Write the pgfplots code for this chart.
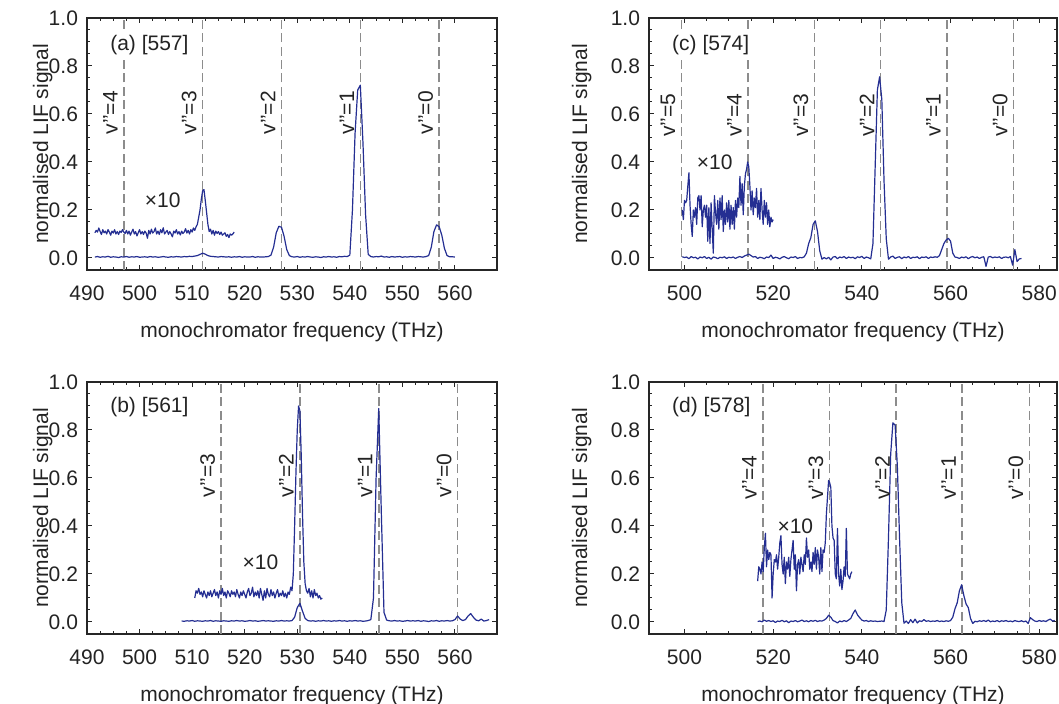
\documentclass[border=0pt]{standalone}
\usepackage{pgfplots}
\pgfplotsset{compat=1.18}
\usepackage{fontspec}
\setmainfont{Liberation Sans}
\definecolor{trace}{RGB}{36,46,146}
\definecolor{vgray}{RGB}{140,140,140}
\definecolor{txt}{RGB}{35,35,35}
\newcommand{\fs}{\fontsize{10.5}{12}\selectfont}
\tikzset{
  vlab/.style={rotate=90, font=\fs, text=txt},
  plab/.style={fill=white, inner sep=1pt, anchor=west, font=\fs, text=txt},
}
\pgfplotsset{
  panel/.style={
    scale only axis, height=126pt, ymin=-0.05, ymax=1,
    ytick={0,0.2,0.4,0.6,0.8,1}, minor y tick num=3, minor x tick num=3,
    tick align=inside, major tick length=2.5pt, minor tick length=1.5pt,
    axis line style={line width=0.6pt, black!85},
    every tick/.style={line width=0.5pt, black!85},
    /pgf/number format/assume math mode=true,
    yticklabel style={xshift=-1pt, /pgf/number format/.cd, fixed, fixed zerofill, precision=1},
    xticklabel style={yshift=-4.5pt, /pgf/number format/.cd, fixed, precision=0},
    every tick label/.append style={font=\fs, text=txt},
    ylabel={normalised LIF signal}, xlabel={monochromator frequency (THz)},
    every axis label/.append style={font=\fs, text=txt},
    xlabel style={at={(axis description cs:0.5,0)}, anchor=center, yshift=-31pt},
    clip=false,
  },
  tr/.style={trace, line width=0.6pt, line join=round},
  vl/.style={vgray, line width=0.8pt, dash pattern=on 4.5pt off 2.2pt, forget plot},
}
\begin{document}
\begin{tikzpicture}
\useasboundingbox (0,0) rectangle (529.5pt,352pt);

% (a)
\begin{axis}[panel, at={(43.5pt,217pt)}, anchor=south west, width=205pt,
  xmin=490, xmax=568, xtick={490,500,...,560},
  ylabel style={at={(axis description cs:-0.108,0.5)}, anchor=center}]
\addplot[vl] coordinates {(497,-0.05)(497,1)};
\addplot[vl] coordinates {(512,-0.05)(512,1)};
\addplot[vl] coordinates {(527,-0.05)(527,1)};
\addplot[vl] coordinates {(542,-0.05)(542,1)};
\addplot[vl] coordinates {(557,-0.05)(557,1)};
\addplot[tr] coordinates {
(491.5,.004)(492,.006)(492.5,.003)(493,.005)(493.5,.004)(494,.007)(494.5,.003)(495,.005)(495.5,.004)(496,.002)
(496.5,.005)(497,.004)(497.5,.006)(498,.003)(498.5,.005)(499,.004)(499.5,.006)(500,.003)(500.5,.004)(501,.005)
(501.5,.003)(502,.006)(502.5,.004)(503,.005)(503.5,.003)(504,.004)(504.5,.006)(505,.004)(505.5,.003)(506,.005)
(506.5,.004)(507,.006)(507.5,.005)(508,.004)(508.5,.006)(509,.005)(509.5,.007)(510,.006)(510.5,.008)(511,.01)
(511.5,.015)(512,.02)(512.5,.016)(513,.01)(513.5,.007)(514,.006)(514.5,.005)(515,.004)(515.5,.006)(516,.005)
(516.5,.004)(517,.005)(517.5,.003)(518,.005)(518.5,.004)(519,.006)(519.5,.003)(520,.005)(520.5,.004)(521,.004)
(521.5,.006)(522,.003)(522.5,.005)(523,.004)(523.5,.004)(524,.005)(524.5,.006)(525,.012)(525.5,.045)(526,.105)
(526.5,.132)(527,.128)(527.5,.09)(528,.035)(528.5,.01)(529,.005)(529.5,.004)(530,.006)(530.5,.003)(531,.005)
(531.5,.004)(532,.006)(532.5,.004)(533,.003)(533.5,.005)(534,.004)(534.5,.002)(535,.005)(535.5,.004)(536,.006)
(536.5,.004)(537,.005)(537.5,.003)(538,.006)(538.5,.005)(539,.007)(539.5,.006)(540,.012)(540.5,.2)(541,.52)
(541.5,.7)(542,.72)(542.5,.48)(543,.18)(543.5,.015)(544,.006)(544.5,.004)(545,.006)(545.5,.005)(546,.008)
(546.5,.004)(547,.005)(547.5,.003)(548,.006)(548.5,.004)(549,.005)(549.5,.006)(550,.003)(550.5,.005)(551,.004)
(551.5,.006)(552,.005)(552.5,.004)(553,.006)(553.5,.005)(554,.004)(554.5,.006)(555,.01)(555.5,.045)(556,.11)
(556.5,.138)(557,.13)(557.5,.095)(558,.04)(558.5,.01)(559,.005)(559.5,.005)(560,.004)};
\addplot[tr] coordinates {
(491.5,.105)(491.75,.115)(492,.108)(492.25,.125)(492.5,.11)(492.75,.098)(493,.118)(493.25,.105)(493.5,.112)(493.75,.1)
(494,.118)(494.25,.108)(494.5,.095)(494.75,.112)(495,.104)(495.25,.118)(495.5,.1)(495.75,.11)(496,.098)(496.25,.112)
(496.5,.106)(496.75,.118)(497,.108)(497.25,.102)(497.5,.115)(497.75,.1)(498,.112)(498.25,.095)(498.5,.108)(498.75,.12)
(499,.1)(499.25,.11)(499.5,.092)(499.75,.105)(500,.118)(500.25,.1)(500.5,.11)(500.75,.098)(501,.112)(501.25,.104)
(501.5,.082)(501.75,.115)(502,.1)(502.25,.12)(502.5,.104)(502.75,.11)(503,.125)(503.25,.1)(503.5,.112)(503.75,.098)
(504,.118)(504.25,.105)(504.5,.126)(504.75,.1)(505,.108)(505.25,.115)(505.5,.098)(505.75,.11)(506,.1)(506.25,.088)
(506.5,.112)(506.75,.104)(507,.118)(507.25,.1)(507.5,.11)(507.75,.096)(508,.112)(508.25,.102)(508.5,.108)(508.75,.122)
(509,.104)(509.25,.115)(509.5,.1)(509.75,.118)(510,.108)(510.25,.125)(510.5,.115)(510.75,.13)(511,.14)(511.25,.17)
(511.5,.2)(511.75,.245)(512,.28)(512.25,.285)(512.5,.24)(512.75,.19)(513,.14)(513.25,.11)(513.5,.12)(513.75,.1)
(514,.115)(514.25,.095)(514.5,.112)(514.75,.102)(515,.11)(515.25,.098)(515.5,.108)(515.75,.095)(516,.1)(516.25,.105)
(516.5,.09)(516.75,.098)(517,.085)(517.25,.1)(517.5,.095)(517.75,.1)(518,.108)};
\node[plab] at (rel axis cs:0.051,0.893) {(a) [557]};
\node[font=\fs, text=txt] at (axis cs:504.4,0.24) {×10};
\node[vlab] at ([xshift=-6.75pt]axis cs:497,0.605) {v’’=4};
\node[vlab] at ([xshift=-6.75pt]axis cs:512,0.605) {v’’=3};
\node[vlab] at ([xshift=-6.75pt]axis cs:527,0.605) {v’’=2};
\node[vlab] at ([xshift=-6.75pt]axis cs:542,0.605) {v’’=1};
\node[vlab] at ([xshift=-6.75pt]axis cs:557,0.605) {v’’=0};
\end{axis}

% (b)
\begin{axis}[panel, at={(43.5pt,35pt)}, anchor=south west, width=205pt,
  xmin=490, xmax=568, xtick={490,500,...,560},
  ylabel style={at={(axis description cs:-0.108,0.5)}, anchor=center}]
\addplot[vl] coordinates {(515.5,-0.05)(515.5,1)};
\addplot[vl] coordinates {(530.5,-0.05)(530.5,1)};
\addplot[vl] coordinates {(545.5,-0.05)(545.5,1)};
\addplot[vl] coordinates {(560.5,-0.05)(560.5,1)};
\addplot[tr] coordinates {
(508,.004)(508.5,.003)(509,.005)(509.5,.004)(510,.006)(510.5,.003)(511,.005)(511.5,.004)(512,.003)(512.5,.005)
(513,.004)(513.5,.006)(514,.003)(514.5,.005)(515,.004)(515.5,.003)(516,.005)(516.5,.004)(517,.003)(517.5,.005)
(518,.004)(518.5,.006)(519,.004)(519.5,.005)(520,.003)(520.5,.004)(521,.006)(521.5,.004)(522,.005)(522.5,.003)
(523,.004)(523.5,.006)(524,.004)(524.5,.005)(525,.004)(525.5,.003)(526,.005)(526.5,.004)(527,.006)(527.5,.004)
(528,.005)(528.5,.004)(529,.006)(529.5,.02)(530,.06)(530.5,.078)(531,.045)(531.5,.015)(532,.006)(532.5,.004)
(533,.005)(533.5,.003)(534,.005)(534.5,.004)(535,.006)(535.5,.004)(536,.005)(536.5,.003)(537,.005)(537.5,.004)
(538,.006)(538.5,.004)(539,.005)(539.5,.003)(540,.005)(540.5,.004)(541,.006)(541.5,.004)(542,.005)(542.5,.003)
(543,.004)(543.5,.006)(544,.01)(544.5,.1)(545,.6)(545.5,.89)(546,.45)(546.5,.04)(547,.008)(547.5,.005)
(548,.004)(548.5,.006)(549,.004)(549.5,.005)(550,.003)(550.5,.004)(551,.006)(551.5,.004)(552,.005)(552.5,.004)
(553,.006)(553.5,.003)(554,.005)(554.5,.004)(555,.002)(555.5,.005)(556,.004)(556.5,.006)(557,.003)(557.5,.005)
(558,.004)(558.5,.006)(559,.004)(559.5,.005)(560,.01)(560.5,.025)(561,.012)(561.5,.006)(562,.01)(562.5,.025)
(563,.035)(563.5,.02)(564,.008)(564.5,.005)(565,.012)(565.5,.004)(566,.006)(566.5,.01)};
\addplot[tr] coordinates {
(510.5,.1)(510.75,.13)(511,.12)(511.25,.14)(511.5,.115)(511.75,.125)(512,.105)(512.25,.13)(512.5,.115)(512.75,.1)
(513,.125)(513.25,.11)(513.5,.13)(513.75,.105)(514,.12)(514.25,.135)(514.5,.11)(514.75,.125)(515,.1)(515.25,.13)
(515.5,.115)(515.75,.14)(516,.11)(516.25,.125)(516.5,.1)(516.75,.13)(517,.12)(517.25,.105)(517.5,.13)(517.75,.115)
(518,.125)(518.25,.105)(518.5,.135)(518.75,.115)(519,.1)(519.25,.125)(519.5,.11)(519.75,.13)(520,.115)(520.25,.1)
(520.5,.125)(520.75,.14)(521,.11)(521.25,.12)(521.5,.145)(521.75,.105)(522,.125)(522.25,.11)(522.5,.13)(522.75,.1)
(523,.14)(523.25,.115)(523.5,.09)(523.75,.13)(524,.1)(524.25,.14)(524.5,.115)(524.75,.105)(525,.135)(525.25,.11)
(525.5,.125)(525.75,.1)(526,.12)(526.25,.135)(526.5,.105)(526.75,.12)(527,.11)(527.25,.13)(527.5,.105)(527.75,.12)
(528,.1)(528.25,.125)(528.5,.115)(528.75,.145)(529,.13)(529.25,.2)(529.5,.4)(529.75,.62)(530,.8)(530.25,.9)
(530.5,.88)(530.75,.7)(531,.45)(531.25,.25)(531.5,.16)(531.75,.13)(532,.12)(532.25,.14)(532.5,.105)(532.75,.13)
(533,.1)(533.25,.135)(533.5,.11)(533.75,.12)(534,.1)(534.25,.11)(534.5,.095)(534.75,.1)};
\node[plab] at (rel axis cs:0.051,0.9) {(b) [561]};
\node[font=\fs, text=txt] at (axis cs:523,0.25) {×10};
\node[vlab] at ([xshift=-6.75pt]axis cs:515.5,0.61) {v’’=3};
\node[vlab] at ([xshift=-6.75pt]axis cs:530.5,0.61) {v’’=2};
\node[vlab] at ([xshift=-6.75pt]axis cs:545.5,0.61) {v’’=1};
\node[vlab] at ([xshift=-6.75pt]axis cs:560.5,0.61) {v’’=0};
\end{axis}

% (c)
\begin{axis}[panel, at={(324.5pt,217pt)}, anchor=south west, width=204pt,
  xmin=492, xmax=584, xtick={500,520,...,580},
  ylabel style={at={(axis description cs:-0.165,0.5)}, anchor=center}]
\addplot[vl] coordinates {(499.3,-0.05)(499.3,1)};
\addplot[vl] coordinates {(514.3,-0.05)(514.3,1)};
\addplot[vl] coordinates {(529.3,-0.05)(529.3,1)};
\addplot[vl] coordinates {(544.2,-0.05)(544.2,1)};
\addplot[vl] coordinates {(559.2,-0.05)(559.2,1)};
\addplot[vl] coordinates {(574.2,-0.05)(574.2,1)};
\addplot[tr] coordinates {
(499.5,.005)(500,.002)(500.5,.004)(501,-.003)(501.5,.006)(502,.001)(502.5,.003)(503,-.004)(503.5,.004)(504,.001)
(504.5,.006)(505,-.002)(505.5,.003)(506,-.005)(506.5,.004)(507,.002)(507.5,-.003)(508,.003)(508.5,.001)(509,.005)
(509.5,-.002)(510,.003)(510.5,.001)(511,.004)(511.5,-.002)(512,.003)(512.5,.006)(513,.002)(513.5,.008)(514,.012)
(514.5,.016)(515,.01)(515.5,.004)(516,.006)(516.5,-.002)(517,.003)(517.5,.001)(518,-.003)(518.5,.004)(519,.002)
(519.5,.012)(520,-.002)(520.5,.003)(521,.001)(521.5,-.004)(522,.003)(522.5,.006)(523,.001)(523.5,-.003)(524,.004)
(524.5,.002)(525,.006)(525.5,-.002)(526,.002)(526.5,.001)(527,.005)(527.5,.02)(528,.06)(528.5,.085)(529,.14)
(529.5,.155)(530,.11)(530.5,.03)(531,-.005)(531.5,.002)(532,-.004)(532.5,.003)(533,-.008)(533.5,.004)(534,.006)
(534.5,-.003)(535,.004)(535.5,.001)(536,.006)(536.5,-.002)(537,.004)(537.5,.001)(538,.003)(538.5,-.003)(539,.005)
(539.5,.002)(540,.007)(540.5,-.002)(541,.004)(541.5,.001)(542,-.004)(542.5,.06)(543,.38)(543.5,.7)(544,.755)
(544.5,.66)(545,.32)(545.5,.08)(546,-.005)(546.5,.004)(547,.008)(547.5,-.002)(548,.003)(548.5,.005)(549,-.003)
(549.5,.004)(550,.001)(550.5,.006)(551,-.002)(551.5,.003)(552,.002)(552.5,.005)(553,-.003)(553.5,.004)(554,.002)
(554.5,.005)(555,-.002)(555.5,.004)(556,.002)(556.5,.005)(557,.003)(557.5,.01)(558,.035)(558.5,.06)(559,.075)
(559.5,.082)(560,.07)(560.5,.02)(561,.004)(561.5,.002)(562,-.002)(562.5,.004)(563,.001)(563.5,.005)(564,-.003)
(564.5,.003)(565,.006)(565.5,.001)(566,.004)(566.5,-.002)(567,.003)(567.5,.005)(568,-.035)(568.5,.004)(569,.006)
(569.5,.001)(570,.004)(570.5,.002)(571,.005)(571.5,-.002)(572,.003)(572.5,.004)(573,.001)(573.5,.006)(574,-.03)
(574.5,.035)(575,-.015)(575.5,-.004)(576,-.002)};
\addplot[tr] coordinates {
(499.5,.2)(499.75,.16)(500,.24)(500.25,.23)(500.5,.24)(500.75,.3)(501,.355)(501.25,.22)(501.5,.14)(501.75,.09)
(502,.2)(502.25,.17)(502.5,.21)(502.75,.14)(503,.25)(503.25,.26)(503.5,.2)(503.75,.26)(504,.13)(504.25,.2)
(504.5,.22)(504.75,.17)(505,.22)(505.25,.07)(505.5,.21)(505.75,.06)(506,.23)(506.25,.12)(506.5,.02)(506.75,.26)
(507,.19)(507.25,.14)(507.5,.24)(507.75,.12)(508,.25)(508.25,.16)(508.5,.26)(508.75,.11)(509,.2)(509.25,.14)
(509.5,.23)(509.75,.15)(510,.24)(510.25,.12)(510.5,.22)(510.75,.14)(511,.21)(511.25,.12)(511.5,.24)(511.75,.17)
(512,.25)(512.25,.21)(512.5,.34)(512.75,.22)(513,.31)(513.25,.18)(513.5,.3)(513.75,.35)(514,.37)(514.25,.4)
(514.5,.38)(514.75,.3)(515,.2)(515.25,.28)(515.5,.18)(515.75,.25)(516,.21)(516.25,.29)(516.5,.17)(516.75,.24)
(517,.16)(517.25,.29)(517.5,.2)(517.75,.14)(518,.24)(518.25,.17)(518.5,.23)(518.75,.14)(519,.2)(519.25,.13)
(519.5,.17)(519.75,.15)(520,.16)};
\node[plab] at (rel axis cs:0.051,0.893) {(c) [574]};
\node[font=\fs, text=txt] at (axis cs:506.8,0.40) {×10};
\node[vlab] at ([xshift=-6.75pt]axis cs:499.3,0.595) {v’’=5};
\node[vlab] at ([xshift=-6.75pt]axis cs:514.3,0.595) {v’’=4};
\node[vlab] at ([xshift=-6.75pt]axis cs:529.3,0.595) {v’’=3};
\node[vlab] at ([xshift=-6.75pt]axis cs:544.2,0.595) {v’’=2};
\node[vlab] at ([xshift=-6.75pt]axis cs:559.2,0.595) {v’’=1};
\node[vlab] at ([xshift=-6.75pt]axis cs:574.2,0.595) {v’’=0};
\end{axis}

% (d)
\begin{axis}[panel, at={(324.5pt,35pt)}, anchor=south west, width=204pt,
  xmin=492, xmax=584, xtick={500,520,...,580},
  ylabel style={at={(axis description cs:-0.165,0.5)}, anchor=center}]
\addplot[vl] coordinates {(517.7,-0.05)(517.7,1)};
\addplot[vl] coordinates {(532.7,-0.05)(532.7,1)};
\addplot[vl] coordinates {(547.7,-0.05)(547.7,1)};
\addplot[vl] coordinates {(562.6,-0.05)(562.6,1)};
\addplot[vl] coordinates {(577.8,-0.05)(577.8,1)};
\addplot[tr] coordinates {
(516.5,.002)(517,.004)(517.5,.001)(518,.008)(518.5,.003)(519,.006)(519.5,.002)(520,.005)(520.5,-.002)(521,.004)
(521.5,.002)(522,.007)(522.5,.001)(523,.005)(523.5,-.003)(524,.004)(524.5,.002)(525,.006)(525.5,.001)(526,.004)
(526.5,.008)(527,.002)(527.5,.005)(528,.001)(528.5,.006)(529,.003)(529.5,.007)(530,.002)(530.5,.005)(531,.004)
(531.5,.008)(532,.015)(532.5,.028)(533,.02)(533.5,.006)(534,.002)(534.5,-.004)(535,.004)(535.5,.001)(536,.006)
(536.5,.002)(537,.008)(537.5,.015)(538,.035)(538.5,.05)(539,.03)(539.5,.018)(540,.008)(540.5,.004)(541,.006)
(541.5,.002)(542,.005)(542.5,.003)(543,.004)(543.5,.002)(544,.003)(544.5,.004)(545,.002)(545.5,.05)(546,.35)
(546.5,.7)(547,.83)(547.5,.82)(548,.65)(548.5,.35)(549,.08)(549.5,-.005)(550,.004)(550.5,-.006)(551,.01)
(551.5,-.003)(552,.012)(552.5,-.004)(553,.005)(553.5,.002)(554,.01)(554.5,.003)(555,.005)(555.5,.002)(556,.004)
(556.5,.003)(557,.006)(557.5,.002)(558,.004)(558.5,.002)(559,.005)(559.5,.003)(560,.006)(560.5,.02)(561,.055)
(561.5,.08)(562,.13)(562.5,.155)(563,.11)(563.5,.075)(564,.06)(564.5,.015)(565,-.006)(565.5,.003)(566,.001)
(566.5,.005)(567,.003)(567.5,.006)(568,.002)(568.5,.008)(569,.001)(569.5,.004)(570,.002)(570.5,.006)(571,.001)
(571.5,.005)(572,.003)(572.5,.006)(573,.002)(573.5,.004)(574,.001)(574.5,.006)(575,.003)(575.5,.002)(576,.005)
(576.5,.001)(577,.004)(577.5,-.006)(578,.018)(578.5,.01)(579,.004)(579.5,.002)(580,.006)(580.5,.003)(581,.005)
(581.5,.002)(582,.008)(582.5,.012)(583,.004)(583.5,.006)};
\addplot[tr] coordinates {
(516.5,.17)(516.75,.23)(517,.22)(517.25,.2)(517.5,.25)(517.75,.21)(518,.31)(518.25,.37)(518.5,.23)(518.75,.3)
(519,.26)(519.25,.29)(519.5,.28)(519.75,.1)(520,.2)(520.25,.26)(520.5,.25)(520.75,.28)(521,.22)(521.25,.27)
(521.5,.33)(521.75,.36)(522,.24)(522.25,.2)(522.5,.27)(522.75,.16)(523,.25)(523.25,.22)(523.5,.27)(523.75,.19)
(524,.26)(524.25,.3)(524.5,.34)(524.75,.22)(525,.28)(525.25,.13)(525.5,.24)(525.75,.26)(526,.2)(526.25,.27)
(526.5,.24)(526.75,.21)(527,.28)(527.25,.24)(527.5,.35)(527.75,.27)(528,.3)(528.25,.22)(528.5,.25)(528.75,.21)
(529,.29)(529.25,.24)(529.5,.31)(529.75,.22)(530,.3)(530.25,.27)(530.5,.2)(530.75,.31)(531,.21)(531.25,.3)
(531.5,.29)(531.75,.33)(532,.45)(532.25,.52)(532.5,.59)(532.75,.58)(533,.56)(533.25,.4)(533.5,.35)(533.75,.34)
(534,.2)(534.25,.18)(534.5,.39)(534.75,.2)(535,.15)(535.25,.22)(535.5,.135)(535.75,.17)(536,.23)(536.25,.19)
(536.5,.39)(536.75,.2)(537,.19)(537.25,.18)(537.5,.2)(537.75,.21)};
\node[plab] at (rel axis cs:0.051,0.9) {(d) [578]};
\node[font=\fs, text=txt] at (axis cs:525,0.40) {×10};
\node[vlab] at ([xshift=-6.75pt]axis cs:517.7,0.6) {v’’=4};
\node[vlab] at ([xshift=-6.75pt]axis cs:532.7,0.6) {v’’=3};
\node[vlab] at ([xshift=-6.75pt]axis cs:547.7,0.6) {v’’=2};
\node[vlab] at ([xshift=-6.75pt]axis cs:562.6,0.6) {v’’=1};
\node[vlab] at ([xshift=-6.75pt]axis cs:577.8,0.6) {v’’=0};
\end{axis}
\end{tikzpicture}
\end{document}
